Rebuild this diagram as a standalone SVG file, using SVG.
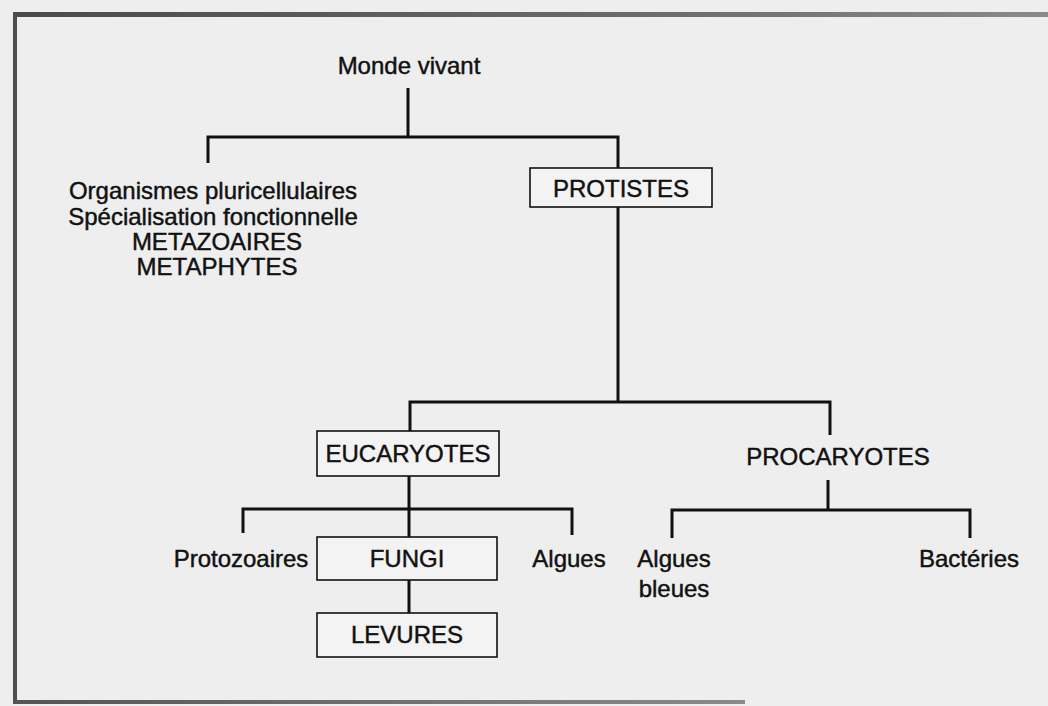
<svg xmlns="http://www.w3.org/2000/svg" width="1048" height="706" viewBox="0 0 1048 706">
  <defs>
    <linearGradient id="topFade" x1="0" y1="0" x2="1" y2="0">
      <stop offset="0" stop-color="#4a4a4a"/>
      <stop offset="0.6" stop-color="#6a6a6a"/>
      <stop offset="1" stop-color="#8a8a8a"/>
    </linearGradient>
    <linearGradient id="botFade" x1="0" y1="0" x2="1" y2="0">
      <stop offset="0" stop-color="#555"/>
      <stop offset="1" stop-color="#8a8a8a"/>
    </linearGradient>
  </defs>
  <style>
    text { font-family: "Liberation Sans", Arial, Helvetica, sans-serif; font-size: 24px; fill: #111; stroke: #111; stroke-width: 0.45; text-anchor: middle; }
    .box { fill: #f3f3f3; stroke: #111; stroke-width: 1.6; }
    .conn { fill: none; stroke: #111; stroke-width: 3; stroke-linejoin: miter; stroke-linecap: butt; }
  </style>
  <rect x="0" y="0" width="1048" height="706" fill="#eeeeee"/>
  <g id="frame">
    <rect x="13" y="12" width="1035" height="5" fill="url(#topFade)"/>
    <rect x="13" y="12" width="4" height="692" fill="#4d4d4d"/>
    <rect x="13" y="700" width="732" height="4" fill="url(#botFade)"/>
  </g>
  <g id="connectors">
    <path class="conn" d="M408,88 V137"/>
    <path class="conn" d="M208,163 V137 H618 V168"/>
    <path class="conn" d="M618,207 V402"/>
    <path class="conn" d="M410,431 V402 H830 V435"/>
    <path class="conn" d="M409,476 V537"/>
    <path class="conn" d="M243,533 V509 H572 V535"/>
    <path class="conn" d="M409,580 V613"/>
    <path class="conn" d="M828,480 V510"/>
    <path class="conn" d="M672,538 V510 H970 V538"/>
  </g>
  <g id="monde-vivant">
    <text x="409" y="74">Monde vivant</text>
  </g>
  <g id="pluricellulaires">
    <text x="213" y="199" font-size="25.5">Organismes pluricellulaires</text>
    <text x="213" y="225" font-size="25.5">Spécialisation fonctionnelle</text>
    <text x="217" y="250" font-size="25.5">METAZOAIRES</text>
    <text x="217" y="275" font-size="25.5">METAPHYTES</text>
  </g>
  <g id="protistes">
    <rect class="box" x="530" y="168" width="182" height="39"/>
    <text x="621" y="197" font-size="25">PROTISTES</text>
  </g>
  <g id="eucaryotes">
    <rect class="box" x="317" y="431" width="182" height="45"/>
    <text x="408" y="462">EUCARYOTES</text>
  </g>
  <g id="procaryotes">
    <text x="838" y="465">PROCARYOTES</text>
  </g>
  <g id="protozoaires">
    <text x="241" y="567">Protozoaires</text>
  </g>
  <g id="fungi">
    <rect class="box" x="317" y="537" width="180" height="43"/>
    <text x="407" y="567">FUNGI</text>
  </g>
  <g id="algues">
    <text x="569" y="567">Algues</text>
  </g>
  <g id="levures">
    <rect class="box" x="317" y="613" width="180" height="44"/>
    <text x="407" y="643">LEVURES</text>
  </g>
  <g id="algues-bleues">
    <text x="674" y="567">Algues</text>
    <text x="674" y="597">bleues</text>
  </g>
  <g id="bacteries">
    <text x="969" y="567">Bactéries</text>
  </g>
</svg>
